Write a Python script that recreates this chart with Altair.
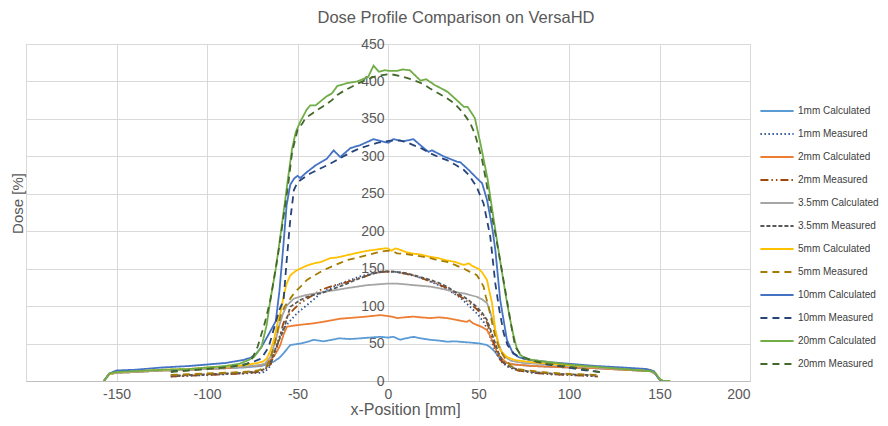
import altair as alt
import pandas as pd

series_names = ["1mm Calculated", "1mm Measured", "2mm Calculated", "2mm Measured",
                "3.5mm Calculated", "3.5mm Measured", "5mm Calculated", "5mm Measured",
                "10mm Calculated", "10mm Measured", "20mm Calculated", "20mm Measured"]
series_colors = ["#5B9BD5", "#2F5597", "#ED7D31", "#9E480E", "#A5A5A5", "#595959",
                 "#FFC000", "#A67C00", "#4472C4", "#264478", "#70AD47", "#43682B"]
series_dashes = [[1, 0], [1.5, 2.5], [1, 0], [8, 3, 1.5, 3, 1.5, 3], [1, 0], [4, 2],
                 [1, 0], [7, 5], [1, 0], [7, 5], [1, 0], [7, 5]]

# 1mm Calculated
x_1c = [-157, -154, -150, -140, -125, -110, -100, -90, -80, -70, -66, -63, -60, -57.7, -54, -48.5, -45, -41, -35.6, -31, -27, -21, -15.3, -10, -4.3, 0, 3, 6.8, 10, 14, 18, 23.4, 28, 32.6, 37, 41.8, 47, 51, 54.7, 56.5, 58.3, 60, 62, 65.7, 70, 80, 90, 100, 115, 130, 145, 148, 150, 152]
y_1c = [0, 9, 11, 12, 14, 15, 16, 17, 18, 20, 23, 26, 31, 37, 48, 50, 52, 55, 53, 55, 57, 56, 57, 58, 59, 58, 59, 55, 57, 59, 57, 55, 54, 52.5, 53, 52, 51, 50, 48, 45, 41, 36, 30, 24, 22, 20, 19, 18, 17, 15, 13, 9, 2, 0]

# 1mm Measured
x_1m = [-120, -100, -80, -70, -68, -65, -62, -59, -55, -50, -45, -40, -37.4, -30, -25, -20.8, -15, -10, -5, 0, 5, 10, 15, 20, 25, 30, 35, 40, 45, 50, 53, 55, 57, 59, 61, 63, 66, 72, 80, 90, 100, 110, 116]
y_1m = [6, 8, 10, 11, 12, 20, 45, 65, 78, 91, 101, 111, 117, 126, 131, 135, 140, 143, 145, 146, 145.5, 143, 140, 136, 131, 126, 119, 111, 100, 88, 78, 68, 55, 42, 32, 25, 19, 14, 11, 9, 8, 7, 6]

# 2mm Calculated
x_2c = [-157, -154, -150, -140, -125, -110, -100, -90, -80, -70, -67, -65, -63, -61, -59.5, -57.7, -55.8, -52, -48.5, -45, -41, -36, -30, -27, -22, -17, -12, -8, -4.3, -1, 2, 5, 9, 14, 18, 23.4, 28, 32.6, 37, 41, 43.6, 45, 47, 49, 52, 54.7, 56.5, 58.3, 60, 62, 65.7, 70, 80, 90, 100, 115, 130, 145, 148, 150, 152]
y_2c = [0, 9, 11, 12, 14, 15, 16, 17, 19, 21, 24, 28, 33, 41, 48, 62, 72.5, 74, 75, 76, 77, 79, 81.5, 83, 84, 85, 86, 87, 88, 87, 86, 84, 85, 86, 85, 84, 85, 84, 82, 80, 79, 81, 77, 75, 72, 68, 60, 50, 40, 32, 24, 22, 20, 19, 18, 17, 15, 13, 9, 2, 0]

# 2mm Measured
x_2m = [-120, -110, -100, -90, -80, -72, -68, -65, -62, -59.5, -57.7, -55, -52, -48.5, -44, -40, -37.4, -33, -28, -22.6, -18, -13.4, -9, -4.3, 0, 4, 8, 14, 19, 23.4, 28, 32.6, 37, 41.8, 45, 49, 52, 54.7, 57, 58.3, 60, 62, 63.9, 67, 72, 80, 90, 100, 110, 116]
y_2m = [6, 7, 8, 9, 10, 12, 15, 22, 40, 62, 78, 88, 96, 104, 111, 117, 121.5, 125, 129, 132, 136, 139, 143, 145.5, 146, 146, 144, 141, 137, 133, 129, 124, 117, 110, 104, 96, 88, 78, 62, 52, 38, 28, 24, 19, 14, 11, 9, 8, 7, 6]

# 3.5mm Calculated
x_35c = [-157, -154, -150, -140, -125, -110, -100, -90, -80, -72, -68, -65, -62, -60, -58, -55.8, -52, -48, -44.8, -40, -35.6, -30, -22.6, -17, -11.6, -6, -0.6, 5, 10, 14, 19, 23.4, 28, 32.6, 37, 41.8, 45, 49, 52, 54.7, 56.5, 58.3, 61, 63, 64.8, 68, 75, 90, 100, 115, 130, 145, 148, 150, 152]
y_35c = [0, 9, 11, 12, 14, 15, 16, 18, 19, 21, 23, 32, 55, 75, 90, 101, 110, 113, 115, 117, 119, 121, 124, 126, 128, 129, 130, 130, 129, 128, 127, 126, 124, 121.5, 119, 117, 115, 112.5, 109, 104, 92, 77, 50, 38, 32, 27, 24, 22, 20, 18, 16, 14, 9, 2, 0]

# 3.5mm Measured
x_35m = [-120, -110, -100, -90, -80, -72, -68, -65, -61, -57.7, -54, -51, -48.5, -45, -41, -36, -32, -27, -22.6, -18, -13.4, -9, -4.3, 0, 3, 5, 10, 14, 19, 23.4, 28, 32.6, 37, 41.8, 45, 49, 52, 54.7, 57, 59.3, 61, 63, 65, 67.5, 72, 80, 90, 100, 110, 115]
y_35m = [7, 8, 9, 10, 11, 13, 16, 25, 50, 68, 99, 104, 108, 112, 115, 118, 121.5, 126, 130, 135, 139, 143, 146, 146.5, 146, 145.5, 144, 141.5, 138, 135, 131, 126, 119, 112.5, 107, 99, 91, 81.5, 66, 50, 38, 28, 22, 19, 15, 12, 10, 9, 8, 7]

# 5mm Calculated
x_5c = [-157, -154, -150, -140, -125, -110, -100, -90, -80, -72, -69, -67, -65, -63, -61, -59, -57.7, -56, -54, -51, -48.5, -45, -41, -37, -32, -28, -22.6, -19, -15.3, -11, -8, -5, -2, 0, 2, 4, 7, 10, 14, 18, 23, 28, 32.6, 37, 41.8, 44.6, 47, 50, 52, 54.7, 56, 57.5, 59.3, 61, 62, 65.7, 70, 80, 90, 100, 115, 130, 145, 148, 150, 152]
y_5c = [0, 9, 12, 13, 15, 16, 18, 19, 21, 24, 26, 30, 40, 55, 78, 95, 113, 130, 141, 147, 150, 154, 157, 159, 164, 165, 168, 170, 172, 174, 175, 176, 177, 177, 174, 177, 175, 172, 170, 169, 166, 164, 161, 159, 155, 157, 153, 150, 145, 135, 120, 104, 68, 50, 41, 32, 28, 25, 23, 21, 19, 17, 15, 10, 2, 0]

# 5mm Measured
x_5m = [-120, -110, -100, -90, -80, -72, -69, -67, -65, -63, -61, -59.5, -57, -54, -52, -50.3, -47, -44.8, -40, -35.6, -30, -26, -22.6, -18, -11.6, -4.3, 0, 3, 5, 9, 14, 19, 23.4, 28, 32.6, 37, 41.8, 45, 49, 51, 52.8, 54, 55.6, 57.5, 59.3, 61, 63, 65.7, 68, 72, 75, 85, 95, 105, 117]
y_5m = [8, 9, 10, 11, 12, 14, 17, 20, 30, 46, 66, 86, 100, 110, 117, 121.5, 129, 135, 142, 148, 154, 158, 161.6, 164, 168, 172.6, 174, 173, 170.5, 170, 168, 166, 164, 161, 159, 155, 150, 146, 141.5, 134, 126, 113, 99, 78, 59, 47, 37, 26, 20, 16, 14.7, 12, 10, 9, 8]

# 10mm Calculated
x_10c = [-157, -154, -150, -140, -125, -110, -100, -90, -85, -80, -76, -73, -70, -66, -62, -60, -58, -56, -54, -52, -50, -48.5, -44.8, -40, -33.7, -30, -26.4, -20.8, -15.3, -8, -3.3, 0.3, 3, 8.6, 14, 18.8, 22.4, 24.3, 30.7, 38, 40, 44.5, 49, 52, 54.7, 57.5, 59.3, 62, 65.7, 69, 72, 78.6, 90, 100, 115, 130, 143, 147, 149, 151]
y_10c = [0, 10, 14, 15, 18, 20, 22, 24, 26, 28, 31, 36, 45, 62, 80, 120, 175, 235, 262, 270, 274, 271, 279, 288, 297, 308, 299, 311, 315, 323, 320, 318, 323, 320, 323, 313, 306, 308, 300, 293, 292, 282, 271, 264, 242, 206, 175, 108, 55, 37, 32, 28, 25, 23, 20, 18, 16, 13, 5, 0]

# 10mm Measured
x_10m = [-120, -110, -100, -90, -80, -75, -70, -66, -63, -60, -57.7, -56, -54, -52, -50, -48.5, -45, -43, -38, -33.7, -29, -24.5, -20, -15.3, -10, -6, 1.3, 6.8, 10, 14, 19, 23.4, 28, 32.6, 37, 41.8, 45, 49, 52.8, 56.5, 59.3, 61.5, 63.9, 66, 69.4, 73, 78.6, 88, 97, 107, 117]
y_10m = [13, 15, 17, 19, 22, 25, 30, 45, 70, 95, 108, 160, 215, 255, 265, 268, 274, 277, 283, 288, 294, 300, 306, 311, 315, 318, 321, 321, 319, 315, 310, 304, 299, 295, 289, 282, 274, 259, 237, 193, 130, 95, 64, 48, 37, 31, 28, 22, 19, 15, 12]

# 20mm Calculated
x_20c = [-157, -154, -150, -140, -125, -110, -100, -90, -82, -77, -74, -70, -67, -65, -62, -59.5, -57, -55, -53, -51, -48.5, -45, -43, -40, -37, -34, -31, -28, -25, -22, -17, -14, -11, -8, -5, -2, 1, 5, 8, 12, 15, 18, 21, 26, 30, 33, 38, 42, 44, 48, 51, 55, 58, 61, 63, 65, 67, 69, 71, 73, 76, 80, 90, 100, 110, 125, 140, 146, 148, 150, 152, 156]
y_20c = [0, 10, 12, 13, 15, 16, 18, 20, 23, 28, 32, 45, 75, 108, 150, 193, 238, 275, 310, 332, 346, 362, 368, 368, 374, 380, 384, 394, 396, 398, 400, 403, 406, 421, 413, 415, 414, 414, 416, 415, 408, 401, 403, 395, 390, 386, 375, 366, 366, 351, 318, 270, 222, 175, 145, 115, 88, 64, 45, 35, 30, 28, 25, 22, 20, 17, 14, 13, 10, 3, 0, 0]

# 20mm Measured
x_20m = [-120, -110, -100, -90, -80, -76, -72, -68, -65, -61, -57.7, -55, -53, -50, -47, -45.7, -42, -39, -35, -31, -28, -24, -20, -17, -13, -8, -4, 1, 7, 14, 19, 23, 28, 33, 37, 40, 43, 45.5, 48, 50, 52, 54, 57.5, 59.3, 62, 65.7, 68, 70.3, 73, 75, 80, 88, 97, 106, 112, 117]
y_20m = [12, 14, 16, 18, 21, 25, 46, 78, 108, 165, 219, 265, 305, 335, 345, 351, 357, 362, 368, 375, 382, 388, 393, 397, 401, 406, 408, 410, 407, 402, 397, 391, 384, 377, 370, 362, 353, 344, 330, 313, 295, 270, 219, 197, 160, 108, 75, 46, 36, 32, 27, 23, 20, 17, 14, 12]

series_x = [x_1c, x_1m, x_2c, x_2m, x_35c, x_35m, x_5c, x_5m, x_10c, x_10m, x_20c, x_20m]
series_y = [y_1c, y_1m, y_2c, y_2m, y_35c, y_35m, y_5c, y_5m, y_10c, y_10m, y_20c, y_20m]

rows = []
for k, (name, xs, ys) in enumerate(zip(series_names, series_x, series_y)):
    for i, (xv, yv) in enumerate(zip(xs, ys)):
        rows.append({"series": name, "k": k, "i": i, "x": xv, "y": yv})
df = pd.DataFrame(rows)

x_ticks = list(range(-200, 201, 50))
y_ticks = list(range(0, 451, 50))

font = "Liberation Sans"
legend = alt.Legend(
    title=None, orient="none", legendX=733, legendY=49,
    labelFont=font, labelFontSize=10, labelColor="#404040",
    symbolType="stroke", symbolSize=1100, symbolStrokeWidth=2,
    rowPadding=-3, labelOffset=3, padding=0,
)

chart = alt.Chart(df).mark_line(strokeWidth=1.8, clip=True).encode(
    x=alt.X("x:Q",
            scale=alt.Scale(domain=[-200, 200], nice=False, zero=False),
            axis=alt.Axis(values=x_ticks, title="x-Position [mm]",
                          labelExpr="datum.value == -200 ? '' : '' + datum.value",
                          ticks=False, labelPadding=6, labelFont=font, labelFontSize=14,
                          labelColor="#595959", titleFont=font, titleFontSize=16,
                          titleFontWeight="normal", titleColor="#595959",
                          titleX=379, titleY=28, titleBaseline="middle",
                          gridColor="#D9D9D9", domainColor="#BFBFBF")),
    y=alt.Y("y:Q",
            scale=alt.Scale(domain=[0, 450], nice=False),
            axis=alt.Axis(values=y_ticks, title="Dose [%]", offset=-362,
                          ticks=False, labelPadding=4, labelFont=font, labelFontSize=14,
                          labelColor="#595959", titleFont=font, titleFontSize=15,
                          titleFontWeight="normal", titleColor="#595959",
                          titleX=-363, titleY=159, titleAngle=270, titleAlign="center",
                          titleBaseline="bottom", domain=False,
                          gridColor="#D9D9D9")),
    color=alt.Color("series:N", scale=alt.Scale(domain=series_names, range=series_colors), legend=legend),
    strokeDash=alt.StrokeDash("series:N", scale=alt.Scale(domain=series_names, range=series_dashes), legend=legend),
    detail="k:O",
    order=alt.Order("i:Q"),
).properties(
    width=724, height=337,
    title=alt.TitleParams("Dose Profile Comparison on VersaHD", font=font, fontSize=16.5,
                          fontWeight="normal", color="#595959", anchor="middle",
                          frame="group", dx=68, offset=11),
    autosize=alt.AutoSizeParams(type="none"),
    padding={"left": 18, "top": 36, "right": 130, "bottom": 37},
).configure_view(stroke=None).configure(background="white")

chart.save("out.html", embed_options={"renderer": "svg", "actions": False})
